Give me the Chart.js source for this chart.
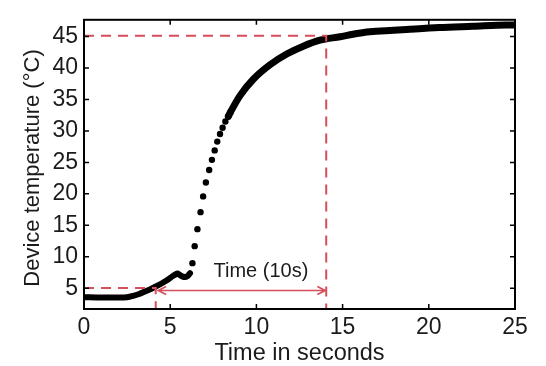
<!DOCTYPE html>
<html>
<head>
<meta charset="utf-8">
<script src="https://cdn.jsdelivr.net/npm/chart.js@4/dist/chart.umd.min.js"></script>
<style>
  html, body { margin: 0; padding: 0; background: #fff; }
  #wrap { width: 546px; height: 366px; }
</style>
</head>
<body>
<div id="wrap"><canvas id="tempChart"></canvas></div>
<script>
// slow parts of the curve (drawn as a thick line)
const startX = [0, 1, 2, 2.5, 2.9, 3.2, 3.5, 3.8, 4.06, 4.35, 4.64, 4.9, 5.12, 5.3, 5.42, 5.55, 5.7, 5.85, 6.0, 6.15];
const startY = [3.6, 3.55, 3.55, 3.6, 3.85, 4.1, 4.45, 4.8, 5.15, 5.55, 6.0, 6.45, 6.9, 7.2, 7.35, 7.15, 6.9, 6.8, 6.95, 7.4];
// fast rise, separate samples
const riseX = [6.29, 6.42, 6.58, 6.76, 6.91, 7.07, 7.26, 7.42, 7.58, 7.73, 7.89, 8.04, 8.2, 8.37, 8.5];
const riseY = [9.0, 11.7, 14.4, 17.1, 19.6, 21.8, 23.8, 25.4, 26.9, 28.3, 29.5, 30.5, 31.5, 32.3, 33.0];
const tailX = [8.37, 8.5, 9.05, 9.82, 10.79, 11.76, 12.72, 13.69, 14.85, 15.6, 16.4, 16.76, 17.5, 18.7, 20.6, 22.55, 24.5, 25];
const tailY = [32.3, 33.0, 35.6, 38.2, 40.5, 42.2, 43.45, 44.4, 44.95, 45.35, 45.7, 45.8, 45.9, 46.1, 46.4, 46.6, 46.8, 46.8];

// red guide lines
const upperGuideX = [0, 14.05, 14.05];
const upperGuideY = [45.1, 45.1, 1.72];
const lowerGuideX = [0, 4.16, 4.16];
const lowerGuideY = [5.05, 5.05, 1.72];
const arrowX = [4.3, 14.0];
const arrowY = [4.65, 4.65];
const arrowLabel = 'Time (10s)';
const arrowLabelPos = [10.26, 7.7];

const xTicks = [0, 5, 10, 15, 20, 25];
const yTicks = [5, 10, 15, 20, 25, 30, 35, 40, 45];
const yTitle = 'Device temperature (°C)';

const pts = (xs, ys) => xs.map((x, i) => ({ x: x, y: ys[i] }));
const red = 'rgb(214,78,92)';
const ink = '#1b1b1b';
const family = '"Liberation Sans", Arial, sans-serif';
const tickFont = { family: family, size: 23 };

const framePlugin = {
    id: 'frame',
    afterDatasetsDraw(chart) {
        const { ctx, chartArea: a, scales } = chart;
        const xs = scales.x, ys = scales.y;
        ctx.save();

        // arrow with two heads
        const ax1 = xs.getPixelForValue(arrowX[0]), ax2 = xs.getPixelForValue(arrowX[1]);
        const ay = ys.getPixelForValue(arrowY[0]);
        ctx.strokeStyle = red;
        ctx.lineWidth = 1.6;
        ctx.beginPath();
        ctx.moveTo(ax1, ay); ctx.lineTo(ax2, ay);
        ctx.moveTo(ax1 + 8, ay - 4); ctx.lineTo(ax1, ay); ctx.lineTo(ax1 + 8, ay + 4);
        ctx.moveTo(ax2 - 8, ay - 4); ctx.lineTo(ax2, ay); ctx.lineTo(ax2 - 8, ay + 4);
        ctx.stroke();

        ctx.fillStyle = ink;
        ctx.font = '20px ' + family;
        ctx.textAlign = 'center';
        ctx.textBaseline = 'middle';
        ctx.fillText(arrowLabel, xs.getPixelForValue(arrowLabelPos[0]), ys.getPixelForValue(arrowLabelPos[1]));

        // y title, sits a bit lower than the plot centre in the original
        ctx.save();
        ctx.translate(33, 168);
        ctx.rotate(-Math.PI / 2);
        ctx.font = '22px ' + family;
        ctx.fillText(yTitle, 0, 0);
        ctx.restore();

        // box and inward ticks
        ctx.strokeStyle = '#000';
        ctx.lineWidth = 2;
        ctx.strokeRect(a.left, a.top, a.right - a.left, a.bottom - a.top);
        ctx.lineWidth = 1.5;
        ctx.beginPath();
        xTicks.forEach(v => {
            const px = xs.getPixelForValue(v);
            ctx.moveTo(px, a.bottom); ctx.lineTo(px, a.bottom - 5);
            ctx.moveTo(px, a.top); ctx.lineTo(px, a.top + 5);
        });
        yTicks.forEach(v => {
            const py = ys.getPixelForValue(v);
            ctx.moveTo(a.left, py); ctx.lineTo(a.left + 5, py);
            ctx.moveTo(a.right, py); ctx.lineTo(a.right - 5, py);
        });
        ctx.stroke();
        ctx.restore();
    }
};

new Chart(document.getElementById('tempChart'), {
    type: 'scatter',
    data: {
        datasets: [
            { data: pts(upperGuideX, upperGuideY), showLine: true, borderColor: red, borderWidth: 2, borderDash: [10, 7], pointRadius: 0 },
            { data: pts(lowerGuideX, lowerGuideY), showLine: true, borderColor: red, borderWidth: 2, borderDash: [10, 7], pointRadius: 0 },
            { data: pts(startX, startY), showLine: true, borderColor: '#000', borderWidth: 6, borderCapStyle: 'round', borderJoinStyle: 'round', cubicInterpolationMode: 'monotone', pointRadius: 0 },
            { data: pts(tailX, tailY), showLine: true, borderColor: '#000', borderWidth: 7, borderCapStyle: 'round', borderJoinStyle: 'round', cubicInterpolationMode: 'monotone', pointRadius: 0 },
            { data: pts(riseX, riseY), showLine: false, backgroundColor: '#000', borderColor: '#000', pointRadius: 3.2, borderWidth: 0 }
        ]
    },
    options: {
        responsive: true,
        maintainAspectRatio: false,
        animation: false,
        events: [],
        layout: { padding: { left: 0, right: 31, top: 5, bottom: 0 } },
        plugins: { legend: { display: false }, tooltip: { enabled: false } },
        scales: {
            x: {
                type: 'linear', min: 0, max: 25,
                afterBuildTicks: s => { s.ticks = xTicks.map(v => ({ value: v })); },
                afterFit: s => { s.height = 57; },
                grid: { display: false, drawTicks: false },
                border: { display: false },
                ticks: { color: ink, font: tickFont, padding: 5, maxRotation: 0 },
                title: { display: true, text: 'Time in seconds', color: ink, font: { family: family, size: 23.5 }, padding: { top: 0, bottom: -2 } }
            },
            y: {
                type: 'linear', min: 1.72, max: 47.64,
                afterBuildTicks: s => { s.ticks = yTicks.map(v => ({ value: v })); },
                afterFit: s => { s.width = 84; },
                grid: { display: false, drawTicks: false },
                border: { display: false },
                ticks: { color: ink, font: tickFont, padding: 6 }
            }
        }
    },
    plugins: [framePlugin]
});
</script>
</body>
</html>
